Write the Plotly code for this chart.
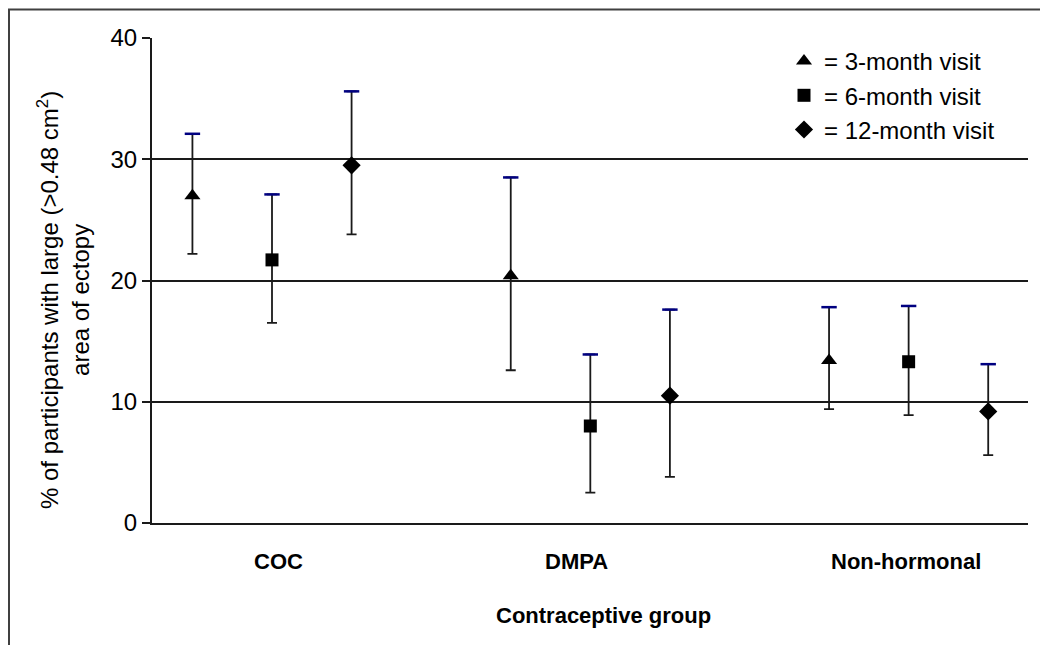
import plotly.graph_objects as go

# ---- data ----
categories = ["COC", "DMPA", "Non-hormonal"]
visit_names = ["= 3-month visit", "= 6-month visit", "= 12-month visit"]
visit_symbols = ["triangle-up", "square", "diamond"]

pct_3m = [27.0, 20.4, 13.4]
upper_3m = [32.1, 28.5, 17.8]
lower_3m = [22.2, 12.6, 9.4]

pct_6m = [21.7, 8.0, 13.3]
upper_6m = [27.1, 13.9, 17.9]
lower_6m = [16.5, 2.5, 8.9]

pct_12m = [29.5, 10.5, 9.2]
upper_12m = [35.6, 17.6, 13.1]
lower_12m = [23.8, 3.8, 5.6]

y_ticks = [0, 10, 20, 30, 40]

series = [
    (pct_3m, upper_3m, lower_3m),
    (pct_6m, upper_6m, lower_6m),
    (pct_12m, upper_12m, lower_12m),
]

# ---- layout geometry (pixels); page body adds an 8px margin ----
OFF = 8
W, H = 1040, 637
L, R, T, B = 144, 20, 30, 122
PW, PH = W - L - R, H - T - B
FONT = "Liberation Sans, Arial, sans-serif"


def px_x(px):  # screen pixel -> paper
    return (px - OFF - L) / PW


def px_y(py):  # screen pixel -> paper
    return (H - B - (py - OFF)) / PH


offsets = [-0.25, 0.0, 0.25]
marker_sizes = [14, 13, 14]

fig = go.Figure()

for i, (vals, up, lo) in enumerate(series):
    xs = [c + offsets[i] for c in range(len(categories))]
    fig.add_trace(go.Scatter(
        x=xs, y=vals, mode="markers", name=visit_names[i],
        legendgroup=visit_names[i],
        marker=dict(symbol=visit_symbols[i], size=marker_sizes[i], color="black"),
        error_y=dict(type="data", symmetric=False,
                     array=[u - v for u, v in zip(up, vals)],
                     arrayminus=[v - l for v, l in zip(vals, lo)],
                     color="#1a1a1a", thickness=1.8, width=5),
        hoverinfo="y",
    ))

# navy upper caps
for i, (vals, up, lo) in enumerate(series):
    xs = [c + offsets[i] for c in range(len(categories))]
    fig.add_trace(go.Scatter(
        x=xs, y=up, mode="markers", showlegend=False, hoverinfo="skip",
        marker=dict(symbol="line-ew", size=11, color="#000080",
                    line=dict(color="#000080", width=2.5)),
    ))

annotations = []
cat_px = [278, 576, 906]
for name, cx in zip(categories, cat_px):
    annotations.append(dict(
        x=px_x(cx), y=px_y(561), xref="paper", yref="paper", text=name,
        showarrow=False, xanchor="center", yanchor="middle",
        font=dict(family=FONT, size=22, color="black", weight="bold")))
annotations.append(dict(
    x=px_x(603), y=px_y(615), xref="paper", yref="paper",
    text="Contraceptive group", showarrow=False, xanchor="center", yanchor="middle",
    font=dict(family=FONT, size=22, color="black", weight="bold")))
annotations.append(dict(
    x=px_x(63), y=px_y(300), xref="paper", yref="paper",
    text="% of participants with large (>0.48 cm<sup>2</sup>)<br>area of ectopy",
    textangle=-90, showarrow=False, xanchor="center", yanchor="middle",
    font=dict(family=FONT, size=24, color="black")))

fig.update_layout(
    width=W, height=H, autosize=False,
    margin=dict(l=L, r=R, t=T, b=B, pad=0),
    paper_bgcolor="white", plot_bgcolor="white",
    showlegend=True,
    legend=dict(x=px_x(784), y=px_y(39), xanchor="left", yanchor="top",
                font=dict(family=FONT, size=24, color="black"),
                bgcolor="rgba(0,0,0,0)", tracegroupgap=0, itemclick=False),
    xaxis=dict(range=[-0.377, 2.375], showticklabels=False, showgrid=False,
               zeroline=False, showline=True, linecolor="#1a1a1a", linewidth=2,
               ticks="", fixedrange=True),
    yaxis=dict(range=[0, 40], tickvals=y_ticks, showgrid=True, gridcolor="#1a1a1a",
               gridwidth=1.5, zeroline=False, showline=True, linecolor="#1a1a1a",
               linewidth=2, ticks="outside", ticklen=8, tickcolor="#1a1a1a",
               tickwidth=1.5, tickfont=dict(family=FONT, size=24, color="black"),
               fixedrange=True),
    annotations=annotations,
    shapes=[dict(type="rect", xref="paper", yref="paper",
                 x0=px_x(9), y0=px_y(670), x1=px_x(1070), y1=px_y(9.5),
                 line=dict(color="#404040", width=2), fillcolor="rgba(0,0,0,0)",
                 layer="below")],
)

fig.write_html("out.html")
